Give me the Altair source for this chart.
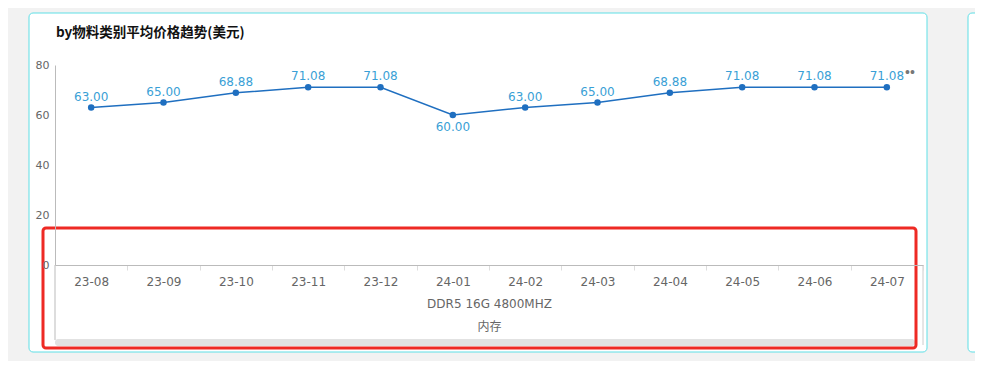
import altair as alt
import pandas as pd

months = ["23-08", "23-09", "23-10", "23-11", "23-12", "24-01",
          "24-02", "24-03", "24-04", "24-05", "24-06", "24-07"]
prices = [63.00, 65.00, 68.88, 71.08, 71.08, 60.00,
          63.00, 65.00, 68.88, 71.08, 71.08, 71.08]
y_ticks = [0, 20, 40, 60, 80]
chart_title = "by物料类别平均价格趋势(美元)"
group_labels = ["DDR5 16G 4800MHZ", "内存"]

df = pd.DataFrame({"month": months, "price": prices})

W, H = 868, 200
FONT = "DejaVu Sans, Noto Sans CJK SC"

x_enc = alt.X("month:N", sort=months,
              scale=alt.Scale(type="band", paddingInner=0, paddingOuter=0),
              axis=alt.Axis(title=group_labels, labelAngle=0, labelFontSize=12,
                            labelColor="#666666", labelFont=FONT, labelPadding=6,
                            tickBand="extent", tickSize=5, tickColor="#dddddd",
                            domainColor="#bbbbbb", titleFont=FONT, titleFontSize=12,
                            titleFontWeight="normal", titleColor="#666666",
                            titleLineHeight=23, titlePadding=11, zindex=1))
y_enc = alt.Y("price:Q", scale=alt.Scale(domain=[0, 80], nice=False),
              axis=alt.Axis(values=y_ticks, title=None, grid=False, ticks=False,
                            labelPadding=6, labelFontSize=11, labelColor="#666666",
                            labelFont=FONT, domainColor="#bbbbbb", zindex=1))

one = pd.DataFrame({"a": [0]})

card = alt.Chart(one).mark_rect(fill="white", stroke="#5fdfe6", strokeWidth=1,
                                cornerRadius=4).encode(
    x=alt.value(-26), x2=alt.value(872), y=alt.value(-52), y2=alt.value(287))
card2 = alt.Chart(one).mark_rect(fill="white", stroke="#5fdfe6", strokeWidth=1,
                                 cornerRadius=4).encode(
    x=alt.value(913), x2=alt.value(1000), y=alt.value(-52), y2=alt.value(287))

title = alt.Chart(one).mark_text(text=chart_title, font="Noto Sans CJK SC",
                                 fontSize=13.5, fontWeight="bold", color="#111111",
                                 align="left", baseline="middle").encode(
    x=alt.value(1), y=alt.value(-32))

vline_l = alt.Chart(one).mark_rule(color="#bbbbbb", strokeWidth=1).encode(
    x=alt.value(0), y=alt.value(H), y2=alt.value(275))
vline_r = alt.Chart(one).mark_rule(color="#cccccc", strokeWidth=1).encode(
    x=alt.value(W), y=alt.value(H), y2=alt.value(280))

scrollbar = alt.Chart(one).mark_rect(fill="#e2e2e2", cornerRadius=3).encode(
    x=alt.value(0), x2=alt.value(860), y=alt.value(274), y2=alt.value(281))

base = alt.Chart(df).encode(x=x_enc, y=y_enc)
line = base.mark_line(color="#1f6fc0", strokeWidth=1.5)
pts = base.mark_point(filled=True, size=42, color="#1f6fc0", opacity=1)

lab_base = base.transform_joinaggregate(
    pmin="min(price)"
).transform_calculate(
    lbl="format(datum.price, '.2f')"
)
labels_up = lab_base.transform_filter("datum.price != datum.pmin").mark_text(
    fontSize=12, font=FONT, color="#3a9fd6", baseline="middle", dy=-11
).encode(text="lbl:N")
labels_dn = lab_base.transform_filter("datum.price == datum.pmin").mark_text(
    fontSize=12, font=FONT, color="#3a9fd6", baseline="middle", dy=12
).encode(text="lbl:N")

dots = alt.Chart(one).mark_text(text="••", fontSize=14, color="#777777",
                                align="left", baseline="middle").encode(
    x=alt.value(850), y=alt.value(8))

red = alt.Chart(one).mark_rect(fill="red", fillOpacity=0, stroke="#ee2a24",
                               strokeWidth=3, cornerRadius=3).encode(
    x=alt.value(-12), x2=alt.value(861), y=alt.value(163), y2=alt.value(283))

chart = alt.layer(card, card2, title, vline_l, vline_r, scrollbar, line, pts,
                  labels_up, labels_dn, dots, red).properties(
    width=W, height=H,
    background="#f2f2f2",
    padding={"left": 47, "top": 57, "right": 52, "bottom": 96},
    autosize=alt.AutoSizeParams(type="none"),
).configure_view(stroke=None)

chart.save("out.html", embed_options={"renderer": "svg", "actions": False})
